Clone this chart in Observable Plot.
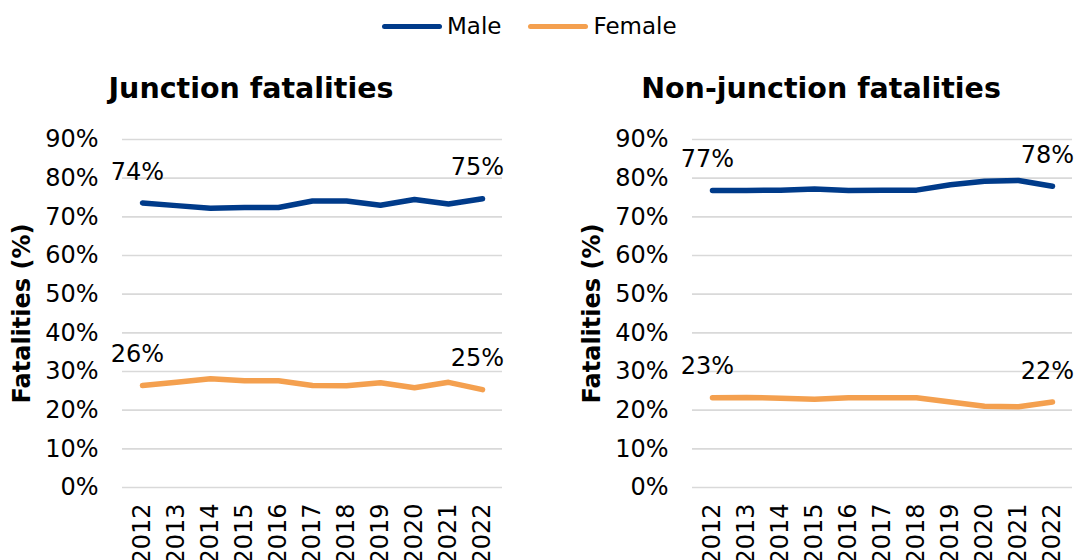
<!DOCTYPE html>
<html>
<head>
<meta charset="utf-8">
<script src="https://cdn.jsdelivr.net/npm/d3@7"></script>
<script src="https://cdn.jsdelivr.net/npm/@observablehq/plot@0.6"></script>
<style>
  html, body { margin: 0; padding: 0; background: #fff; }
  body { width: 1088px; height: 560px; overflow: hidden; position: relative; font-family: "DejaVu Sans", Verdana, sans-serif; color: #000; }
  .legend { position: absolute; left: 382px; top: 13px; display: flex; align-items: center; font-size: 23px; }
  .legend .sw { display: inline-block; width: 60px; height: 5px; border-radius: 3px; margin-right: 5px; }
  .legend .item { display: flex; align-items: center; margin-right: 27px; }
  .title { position: absolute; top: 72px; width: 518px; text-align: center; font-weight: bold; font-size: 28.5px; }
  .panel { position: absolute; top: 110px; }
</style>
</head>
<body>
<div class="legend" id="legend"></div>
<div class="title" id="t0" style="left:-8px"></div>
<div class="title" id="t1" style="left:562px"></div>
<div class="panel" id="p0" style="left:0px"></div>
<div class="panel" id="p1" style="left:570px"></div>
<script>
const years = ["2012","2013","2014","2015","2016","2017","2018","2019","2020","2021","2022"];
const series = ["Male", "Female"];
const seriesColors = ["#003b8a", "#f4a04f"];
const titles = ["Junction fatalities", "Non-junction fatalities"];
const yTicks = [0, 10, 20, 30, 40, 50, 60, 70, 80, 90];
const yLabel = "Fatalities (%)";

const junctionMale   = [73.6, 72.9, 72.2, 72.4, 72.4, 74.1, 74.1, 73.0, 74.5, 73.3, 74.7];
const junctionFemale = [26.4, 27.2, 28.1, 27.6, 27.6, 26.4, 26.3, 27.1, 25.8, 27.2, 25.3];
const nonJunctionMale   = [76.8, 76.8, 76.9, 77.2, 76.8, 76.9, 76.9, 78.3, 79.2, 79.4, 77.9];
const nonJunctionFemale = [23.2, 23.3, 23.1, 22.8, 23.2, 23.2, 23.2, 22.1, 21.0, 20.9, 22.1];

// legend
const legend = document.getElementById("legend");
series.forEach((s, i) => {
  const item = document.createElement("div");
  item.className = "item";
  item.innerHTML = `<span class="sw" style="background:${seriesColors[i]}"></span><span>${s}</span>`;
  legend.appendChild(item);
});
document.getElementById("t0").textContent = titles[0];
document.getElementById("t1").textContent = titles[1];

function makePanel(maleVals, femaleVals) {
  const rows = [];
  years.forEach((y, i) => {
    rows.push({year: y, sex: "Male", value: maleVals[i]});
    rows.push({year: y, sex: "Female", value: femaleVals[i]});
  });
  const ends = rows.filter(d => d.year === years[0] || d.year === years[years.length - 1]);
  return Plot.plot({
    width: 518,
    height: 450,
    marginLeft: 122,
    marginRight: 16,
    marginTop: 29,
    marginBottom: 73,
    style: {fontFamily: "DejaVu Sans, Verdana, sans-serif", fontSize: "24px", color: "#000", background: "transparent", overflow: "visible"},
    x: {type: "point", domain: years, padding: 0.5, axis: null},
    y: {domain: [0, 90], axis: null},
    color: {domain: series, range: seriesColors},
    marks: [
      Plot.gridY(yTicks, {stroke: "#d9d9d9", strokeOpacity: 1, strokeWidth: 1.6}),
      Plot.axisY(yTicks, {tickSize: 0, tickPadding: 24, tickFormat: d => d + "%", fontSize: 24, label: null}),
      Plot.axisX(years, {tickSize: 0, tickPadding: 16, tickRotate: -90, fontSize: 24, label: null}),
      Plot.line(rows, {x: "year", y: "value", z: "sex", stroke: "sex", strokeWidth: 5.5, strokeLinecap: "round", strokeLinejoin: "round"}),
      Plot.text(ends, {x: "year", y: "value", text: d => Math.round(d.value) + "%", dy: -31, dx: -5, fontSize: 24, fill: "#000"}),
      Plot.text([yLabel], {frameAnchor: "left", textAnchor: "middle", dx: -100, rotate: -90, fontWeight: "bold", fontSize: 24, fill: "#000"})
    ]
  });
}

document.getElementById("p0").appendChild(makePanel(junctionMale, junctionFemale));
document.getElementById("p1").appendChild(makePanel(nonJunctionMale, nonJunctionFemale));
</script>
</body>
</html>
